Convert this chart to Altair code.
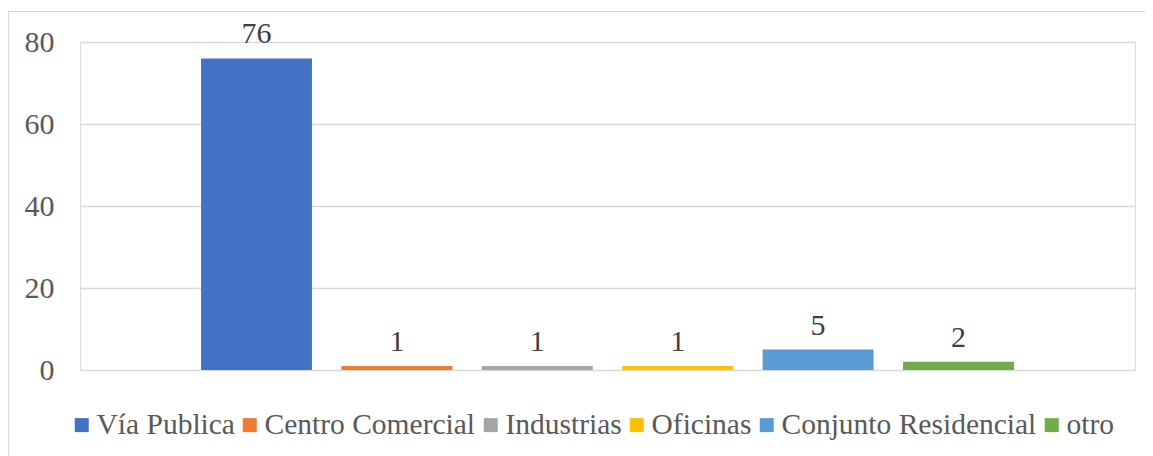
import altair as alt
import pandas as pd

categories = ["Vía Publica", "Centro Comercial", "Industrias", "Oficinas", "Conjunto Residencial", "otro"]
values = [76, 1, 1, 1, 5, 2]
colors = ["#4472C4", "#ED7D31", "#A5A5A5", "#FFC000", "#5B9BD5", "#70AD47"]
y_ticks = [0, 20, 40, 60, 80]

df = pd.DataFrame({"cat": categories, "val": values})
FONT = "Liberation Serif"
FS = 30

base = alt.Chart(df)

bars = base.mark_bar().encode(
    x=alt.X("cat:N", sort=categories, axis=None,
            scale=alt.Scale(paddingInner=0.21, paddingOuter=0.862)),
    y=alt.Y("val:Q", scale=alt.Scale(domain=[0, 80], nice=False),
            axis=alt.Axis(values=y_ticks, title=None, domain=False, ticks=False,
                          labelFont=FONT, labelFontSize=FS, labelColor="#595959",
                          labelPadding=26, gridColor="#D9D9D9", gridWidth=1.3)),
    color=alt.Color("cat:N", sort=categories,
                    scale=alt.Scale(domain=categories, range=colors),
                    legend=alt.Legend(title=None, orient="none", direction="horizontal",
                                      columns=6, legendX=-13, legendY=368, padding=0,
                                      symbolType="square", symbolSize=196,
                                      symbolStrokeWidth=0,
                                      labelFont=FONT, labelFontSize=29.5,
                                      labelColor="#595959",
                                      labelOffset=0, columnPadding=-4,
                                      labelLimit=400)),
)

labels = base.mark_text(font=FONT, fontSize=FS, color="#404040", baseline="alphabetic", dy=-15).encode(
    x=alt.X("cat:N", sort=categories),
    y=alt.Y("val:Q"),
    text=alt.Text("val:Q"),
)

border_src = alt.Chart(alt.Data(values=[{"k": 1}]))
vline = border_src.mark_rule(color="#D9D9D9", strokeWidth=1.2).encode(
    x=alt.value(-71.5), y=alt.value(-30.5), y2=alt.value(600))
hline = border_src.mark_rule(color="#D9D9D9", strokeWidth=1.2).encode(
    x=alt.value(-72), x2=alt.value(1200), y=alt.value(-30.5))

chart = alt.layer(bars, labels, vline, hline).properties(
    width=1055, height=328,
    autosize=alt.AutoSizeParams(type="none"),
    padding={"left": 72, "top": 34, "right": 10, "bottom": 86},
).configure_view(stroke=None).configure(background="white")

chart.save("out.html", embed_options={"renderer": "svg", "actions": False})
